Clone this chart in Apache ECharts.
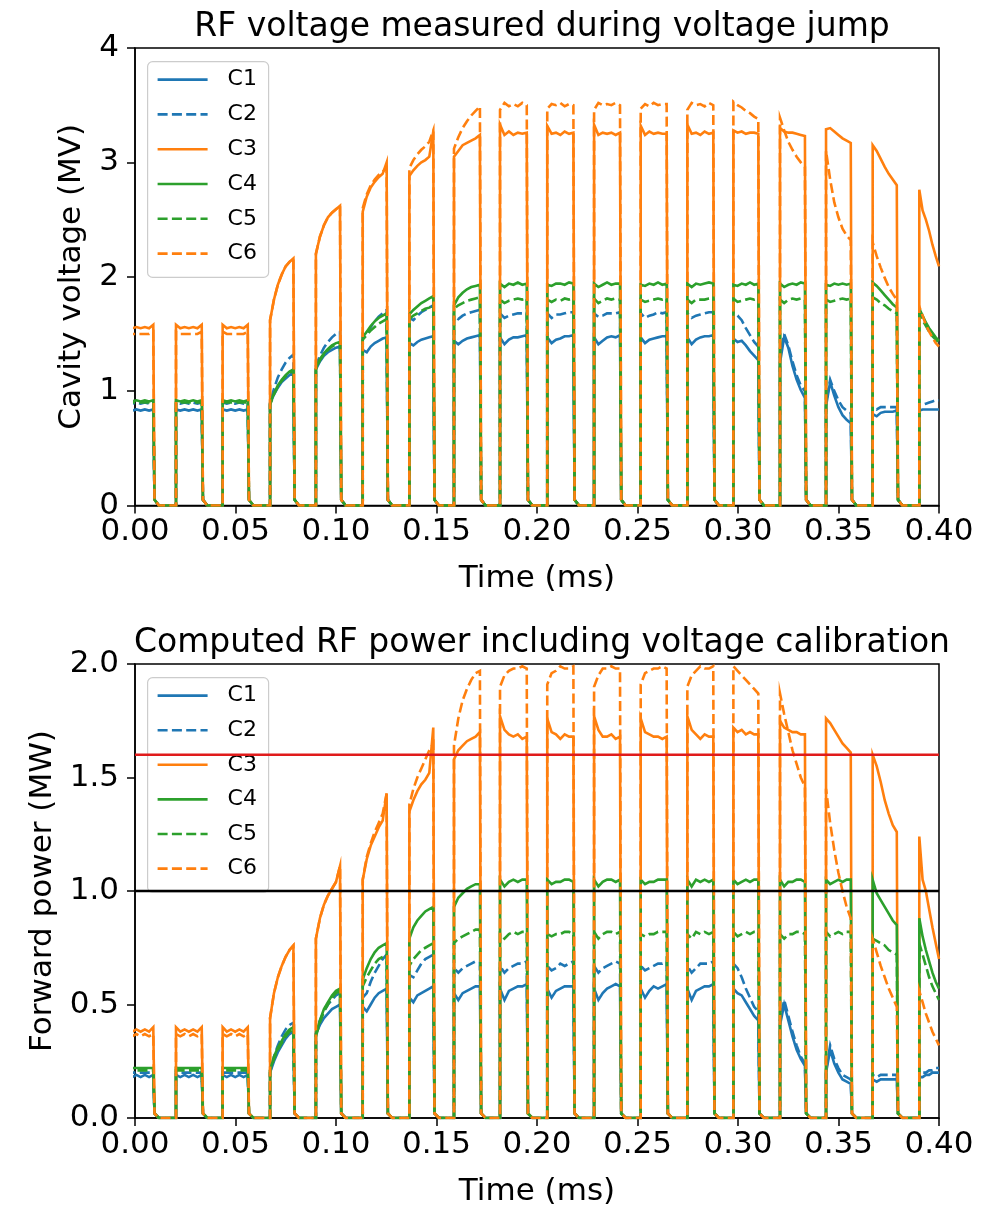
<!DOCTYPE html>
<html><head><meta charset="utf-8">
<script src="https://cdn.jsdelivr.net/npm/echarts@6/dist/echarts.min.js"></script>
<style>html,body{margin:0;padding:0;background:#fff}#c{width:997px;height:1208px}</style>
</head><body><div id="c"></div>
<script>
// ---------- data ----------
const seriesNames = ['C1','C2','C3','C4','C5','C6'];
const xTicks = [0.00,0.05,0.10,0.15,0.20,0.25,0.30,0.35,0.40];
const topYTicks = [0,1,2,3,4];
const botYTicks = [0.0,0.5,1.0,1.5,2.0];
const powerLimits = [1.6, 1.0];

// pulse rising / falling edge times (ms)
const pulseStart = [-0.0035,0.0204,0.0436,0.0672,0.0900,0.1133,0.1365,0.1587,0.1816,0.2051,0.2284,0.2516,0.2748,0.2977,0.3209,0.3438,0.3670,0.3902];
const pulseEnd   = [0.0091,0.0332,0.0561,0.0788,0.1020,0.1252,0.1484,0.1716,0.1949,0.2181,0.2413,0.2645,0.2877,0.3101,0.3333,0.3561,0.3790,0.4000];

// Cavity voltage (MV) — levels across each pulse (start ... end)
const volC1 = [
[0.84,0.83,0.84,0.83,0.84,0.83,0.84],[0.84,0.83,0.84,0.83,0.84,0.83,0.84],[0.84,0.83,0.84,0.83,0.84,0.83,0.84],
[0.89,0.97,1.03,1.08,1.11,1.14,1.16],[1.19,1.26,1.31,1.34,1.36,1.38,1.39],[1.36,1.34,1.39,1.42,1.44,1.46,1.47],
[1.42,1.40,1.43,1.45,1.46,1.47,1.48],[1.44,1.41,1.44,1.46,1.47,1.48,1.49],[1.47,1.41,1.45,1.47,1.47,1.48,1.49],
[1.47,1.42,1.45,1.46,1.48,1.48,1.49],[1.47,1.41,1.44,1.47,1.48,1.47,1.49],[1.47,1.42,1.45,1.46,1.47,1.48,1.48],
[1.47,1.41,1.45,1.47,1.48,1.48,1.49],[1.46,1.43,1.44,1.40,1.35,1.31,1.27],[1.25,1.47,1.38,1.22,1.10,1.01,0.94],
[0.87,1.08,0.96,0.86,0.79,0.75,0.72],[0.80,0.78,0.81,0.82,0.82,0.82,0.83],[0.83,0.84,0.84,0.84,0.84,0.84,0.84]];
const volC2 = [
[0.90,0.89,0.90,0.89,0.90,0.89,0.90],[0.90,0.89,0.90,0.89,0.90,0.89,0.90],[0.90,0.89,0.90,0.89,0.90,0.89,0.90],
[0.90,1.02,1.12,1.19,1.25,1.29,1.32],[1.22,1.31,1.38,1.43,1.47,1.50,1.52],[1.50,1.49,1.56,1.61,1.65,1.68,1.71],
[1.64,1.62,1.66,1.69,1.71,1.73,1.75],[1.66,1.63,1.66,1.68,1.69,1.70,1.71],[1.68,1.64,1.66,1.67,1.68,1.68,1.69],
[1.68,1.64,1.67,1.67,1.68,1.69,1.69],[1.68,1.65,1.66,1.68,1.68,1.68,1.69],[1.68,1.64,1.66,1.67,1.69,1.68,1.69],
[1.68,1.64,1.66,1.67,1.68,1.69,1.69],[1.68,1.66,1.62,1.55,1.49,1.43,1.39],[1.30,1.50,1.40,1.26,1.14,1.05,1.00],
[0.90,1.10,1.00,0.92,0.86,0.83,0.81],[0.86,0.84,0.86,0.86,0.86,0.86,0.86],[0.87,0.88,0.89,0.90,0.91,0.92,0.92]];
const volC3 = [
[1.58,1.55,1.56,1.55,1.56,1.55,1.58],[1.58,1.55,1.56,1.55,1.56,1.55,1.58],[1.58,1.55,1.56,1.55,1.56,1.55,1.58],
[1.62,1.80,1.93,2.02,2.09,2.13,2.16],[2.20,2.35,2.45,2.52,2.56,2.59,2.62],[2.57,2.70,2.78,2.83,2.87,2.90,3.00],
[2.88,2.93,2.97,3.00,3.02,3.05,3.27],[3.05,3.10,3.15,3.17,3.19,3.21,3.24],[3.33,3.24,3.27,3.24,3.26,3.25,3.26],
[3.32,3.25,3.26,3.24,3.27,3.25,3.26],[3.33,3.24,3.26,3.25,3.26,3.24,3.26],[3.32,3.24,3.27,3.25,3.26,3.25,3.25],
[3.33,3.25,3.26,3.24,3.27,3.25,3.26],[3.28,3.26,3.27,3.25,3.26,3.26,3.25],[3.30,3.27,3.26,3.26,3.25,3.24,3.23],
[3.29,3.30,3.27,3.24,3.21,3.19,3.17],[3.15,3.10,3.03,2.96,2.90,2.85,2.80],[2.76,2.58,2.50,2.40,2.28,2.18,2.09]];
const volC4 = [
[0.92,0.91,0.92,0.91,0.92,0.91,0.92],[0.92,0.91,0.92,0.91,0.92,0.91,0.92],[0.92,0.91,0.92,0.91,0.92,0.91,0.92],
[0.89,0.98,1.05,1.10,1.14,1.17,1.19],[1.20,1.28,1.33,1.37,1.40,1.42,1.43],[1.47,1.52,1.57,1.61,1.64,1.66,1.68],
[1.67,1.71,1.74,1.77,1.79,1.81,1.83],[1.75,1.82,1.86,1.89,1.91,1.92,1.93],[1.94,1.91,1.94,1.93,1.95,1.93,1.94],
[1.93,1.92,1.94,1.94,1.93,1.95,1.94],[1.94,1.91,1.93,1.95,1.93,1.94,1.94],[1.93,1.92,1.94,1.93,1.95,1.93,1.94],
[1.94,1.91,1.94,1.93,1.94,1.95,1.94],[1.93,1.92,1.94,1.93,1.95,1.93,1.94],[1.94,1.91,1.93,1.94,1.93,1.95,1.94],
[1.93,1.92,1.94,1.93,1.94,1.93,1.94],[1.95,1.92,1.88,1.84,1.80,1.76,1.73],[1.72,1.66,1.60,1.55,1.51,1.47,1.44]];
const volC5 = [
[0.90,0.90,0.90,0.90,0.90,0.90,0.90],[0.90,0.90,0.90,0.90,0.90,0.90,0.90],[0.90,0.90,0.90,0.90,0.90,0.90,0.90],
[0.88,0.97,1.04,1.09,1.13,1.16,1.18],[1.19,1.27,1.32,1.36,1.39,1.41,1.42],[1.45,1.49,1.53,1.56,1.59,1.61,1.63],
[1.63,1.66,1.68,1.70,1.72,1.73,1.75],[1.72,1.75,1.77,1.79,1.80,1.81,1.82],[1.80,1.77,1.79,1.80,1.81,1.80,1.81],
[1.80,1.78,1.80,1.79,1.81,1.80,1.81],[1.81,1.77,1.79,1.81,1.80,1.81,1.80],[1.80,1.78,1.79,1.80,1.81,1.80,1.81],
[1.80,1.77,1.80,1.80,1.80,1.81,1.81],[1.81,1.78,1.79,1.80,1.81,1.80,1.81],[1.80,1.77,1.80,1.81,1.80,1.81,1.80],
[1.80,1.78,1.79,1.80,1.81,1.80,1.81],[1.82,1.80,1.77,1.75,1.72,1.70,1.68],[1.68,1.62,1.57,1.52,1.48,1.45,1.42]];
const volC6 = [
[1.52,1.50,1.50,1.50,1.50,1.50,1.52],[1.52,1.50,1.50,1.50,1.50,1.50,1.52],[1.52,1.50,1.50,1.50,1.50,1.50,1.52],
[1.62,1.80,1.93,2.02,2.09,2.13,2.16],[2.20,2.35,2.45,2.52,2.56,2.59,2.62],[2.60,2.72,2.80,2.85,2.89,2.92,2.95],
[2.95,3.02,3.07,3.11,3.14,3.18,3.28],[3.12,3.22,3.30,3.36,3.41,3.45,3.49],[3.46,3.52,3.49,3.51,3.49,3.52,3.50],
[3.47,3.51,3.50,3.52,3.49,3.51,3.50],[3.46,3.52,3.50,3.51,3.50,3.52,3.50],[3.47,3.51,3.49,3.52,3.50,3.51,3.51],
[3.46,3.52,3.50,3.51,3.49,3.52,3.50],[3.53,3.50,3.48,3.45,3.43,3.40,3.38],[3.39,3.28,3.18,3.11,3.05,3.00,2.96],
[3.10,2.85,2.65,2.52,2.42,2.36,2.32],[2.30,2.18,2.08,1.99,1.91,1.85,1.80],[1.74,1.66,1.58,1.52,1.47,1.42,1.39]];

// Forward power (MW)
const powC1 = [
[0.19,0.18,0.19,0.18,0.19,0.18,0.19],[0.19,0.18,0.19,0.18,0.19,0.18,0.19],[0.19,0.18,0.19,0.18,0.19,0.18,0.19],
[0.20,0.25,0.29,0.32,0.35,0.37,0.38],[0.37,0.41,0.44,0.46,0.48,0.49,0.50],[0.49,0.47,0.50,0.53,0.55,0.56,0.57],
[0.53,0.51,0.54,0.55,0.56,0.57,0.58],[0.55,0.52,0.55,0.56,0.57,0.58,0.58],[0.57,0.52,0.56,0.57,0.58,0.58,0.59],
[0.57,0.53,0.56,0.57,0.58,0.58,0.58],[0.57,0.52,0.55,0.57,0.58,0.59,0.58],[0.57,0.53,0.56,0.58,0.57,0.58,0.59],
[0.57,0.52,0.56,0.57,0.58,0.58,0.59],[0.57,0.55,0.54,0.51,0.48,0.45,0.43],[0.41,0.50,0.43,0.36,0.30,0.26,0.23],
[0.20,0.30,0.24,0.20,0.17,0.16,0.15],[0.17,0.16,0.17,0.17,0.17,0.17,0.17],[0.18,0.18,0.19,0.19,0.20,0.20,0.20]];
const powC2 = [
[0.20,0.20,0.20,0.20,0.20,0.20,0.20],[0.20,0.20,0.20,0.20,0.20,0.20,0.20],[0.20,0.20,0.20,0.20,0.20,0.20,0.20],
[0.20,0.27,0.32,0.36,0.39,0.41,0.42],[0.38,0.43,0.47,0.50,0.52,0.54,0.55],[0.53,0.55,0.60,0.64,0.67,0.70,0.72],
[0.63,0.62,0.65,0.68,0.70,0.71,0.72],[0.66,0.64,0.66,0.67,0.68,0.69,0.69],[0.67,0.64,0.66,0.67,0.68,0.68,0.69],
[0.67,0.65,0.66,0.68,0.67,0.68,0.69],[0.67,0.64,0.66,0.67,0.68,0.69,0.68],[0.67,0.65,0.66,0.67,0.68,0.68,0.69],
[0.67,0.64,0.66,0.68,0.68,0.68,0.69],[0.68,0.66,0.62,0.57,0.53,0.49,0.47],[0.43,0.52,0.45,0.38,0.32,0.27,0.24],
[0.21,0.32,0.26,0.22,0.19,0.18,0.17],[0.19,0.18,0.19,0.19,0.19,0.19,0.19],[0.19,0.20,0.20,0.21,0.21,0.22,0.22]];
const powC3 = [
[0.40,0.38,0.39,0.38,0.39,0.38,0.40],[0.40,0.38,0.39,0.38,0.39,0.38,0.40],[0.40,0.38,0.39,0.38,0.39,0.38,0.40],
[0.44,0.55,0.62,0.67,0.71,0.74,0.76],[0.79,0.88,0.94,0.98,1.01,1.04,1.11],[1.05,1.14,1.20,1.24,1.28,1.31,1.43],
[1.35,1.40,1.44,1.47,1.49,1.52,1.72],[1.58,1.62,1.64,1.66,1.67,1.68,1.70],[1.77,1.71,1.69,1.68,1.69,1.67,1.68],
[1.76,1.70,1.69,1.67,1.69,1.68,1.68],[1.77,1.71,1.68,1.68,1.69,1.67,1.68],[1.76,1.70,1.69,1.68,1.68,1.67,1.68],
[1.77,1.71,1.69,1.67,1.69,1.68,1.68],[1.72,1.70,1.71,1.69,1.70,1.69,1.69],[1.75,1.72,1.71,1.70,1.70,1.69,1.69],
[1.76,1.74,1.71,1.68,1.65,1.63,1.61],[1.60,1.55,1.48,1.40,1.34,1.29,1.26],[1.24,1.05,1.00,0.92,0.84,0.77,0.70]];
const powC4 = [
[0.22,0.22,0.22,0.22,0.22,0.22,0.22],[0.22,0.22,0.22,0.22,0.22,0.22,0.22],[0.22,0.22,0.22,0.22,0.22,0.22,0.22],
[0.21,0.27,0.31,0.34,0.37,0.39,0.40],[0.37,0.43,0.48,0.51,0.54,0.56,0.57],[0.61,0.66,0.70,0.73,0.75,0.76,0.77],
[0.79,0.84,0.87,0.89,0.91,0.92,0.93],[0.93,0.97,0.99,1.01,1.02,1.03,1.03],[1.05,1.02,1.04,1.05,1.04,1.05,1.05],
[1.05,1.03,1.04,1.04,1.05,1.05,1.04],[1.05,1.02,1.04,1.05,1.05,1.04,1.05],[1.05,1.03,1.04,1.04,1.05,1.05,1.05],
[1.05,1.02,1.05,1.04,1.05,1.04,1.05],[1.05,1.03,1.04,1.05,1.04,1.05,1.05],[1.05,1.02,1.04,1.04,1.05,1.05,1.04],
[1.05,1.03,1.04,1.05,1.04,1.05,1.05],[1.05,0.99,0.96,0.93,0.90,0.87,0.85],[0.88,0.80,0.74,0.69,0.64,0.60,0.57]];
const powC5 = [
[0.21,0.21,0.21,0.21,0.21,0.21,0.21],[0.21,0.21,0.21,0.21,0.21,0.21,0.21],[0.21,0.21,0.21,0.21,0.21,0.21,0.21],
[0.21,0.26,0.30,0.33,0.36,0.38,0.39],[0.36,0.42,0.47,0.50,0.53,0.55,0.56],[0.58,0.62,0.65,0.68,0.70,0.71,0.72],
[0.67,0.70,0.72,0.74,0.75,0.76,0.77],[0.77,0.79,0.80,0.81,0.82,0.83,0.83],[0.81,0.79,0.81,0.82,0.81,0.82,0.82],
[0.81,0.80,0.81,0.81,0.82,0.82,0.81],[0.82,0.79,0.81,0.82,0.82,0.81,0.82],[0.81,0.80,0.81,0.81,0.82,0.82,0.82],
[0.81,0.79,0.82,0.81,0.82,0.81,0.82],[0.82,0.80,0.81,0.82,0.81,0.82,0.82],[0.81,0.79,0.81,0.81,0.82,0.82,0.81],
[0.82,0.80,0.81,0.82,0.81,0.82,0.82],[0.79,0.78,0.77,0.76,0.74,0.73,0.72],[0.77,0.72,0.67,0.62,0.58,0.55,0.52]];
const powC6 = [
[0.37,0.36,0.37,0.36,0.37,0.36,0.37],[0.37,0.36,0.37,0.36,0.37,0.36,0.37],[0.37,0.36,0.37,0.36,0.37,0.36,0.37],
[0.44,0.55,0.62,0.67,0.71,0.74,0.76],[0.79,0.88,0.94,0.98,1.01,1.04,1.11],[1.05,1.15,1.21,1.26,1.30,1.34,1.43],
[1.38,1.45,1.50,1.54,1.58,1.62,1.65],[1.64,1.76,1.84,1.89,1.93,1.96,1.97],[1.90,1.95,1.97,1.98,1.98,1.99,1.98],
[1.91,1.96,1.97,1.99,1.98,1.98,1.99],[1.90,1.95,1.98,1.98,1.99,1.98,1.98],[1.91,1.96,1.97,1.98,1.98,1.99,1.98],
[1.90,1.95,1.97,1.99,1.98,1.98,1.99],[1.99,1.97,1.95,1.93,1.91,1.89,1.87],[1.87,1.78,1.70,1.62,1.56,1.50,1.46],
[1.45,1.30,1.18,1.08,1.00,0.93,0.88],[0.79,0.73,0.67,0.62,0.57,0.53,0.49],[0.56,0.51,0.46,0.42,0.38,0.35,0.32]];

// ---------- build ----------
const colors = ['#1f77b4','#1f77b4','#ff7f0e','#2ca02c','#2ca02c','#ff7f0e'];
const dashed = [false,true,false,false,true,true];
const DASH = [10,4.3];
const LW = 2.6;

function wave(levels, tail){
  const pts = [];
  for (let i = 0; i < pulseStart.length; i++){
    const s = pulseStart[i], e = pulseEnd[i], lv = levels[i], n = lv.length;
    pts.push([s, 0]);
    for (let k = 0; k < n; k++) pts.push([s + (e - s) * k / (n - 1), lv[k]]);
    if (i < pulseStart.length - 1) { pts.push([e + 0.0006, tail]); pts.push([e + 0.0028, 0]); }
  }
  return pts;
}

const volData = [volC1,volC2,volC3,volC4,volC5,volC6];
const powData = [powC1,powC2,powC3,powC4,powC5,powC6];

const FONT = 'DejaVu Sans';
const series = [];
volData.forEach((d,i)=>{
  series.push({name: seriesNames[i], type:'line', xAxisIndex:0, yAxisIndex:0, data: wave(d,0.05),
    showSymbol:false, symbol:'none', animation:false, z: 2+i,
    lineStyle:{color:colors[i], width:LW, type: dashed[i]?DASH:'solid', cap:'butt', join:'miter'}});
});
powData.forEach((d,i)=>{
  const s = {name: seriesNames[i], type:'line', xAxisIndex:1, yAxisIndex:1, data: wave(d,0.02),
    showSymbol:false, symbol:'none', animation:false, z: 2+i,
    lineStyle:{color:colors[i], width:LW, type: dashed[i]?DASH:'solid', cap:'butt', join:'miter'}};
  series.push(s);
});
// horizontal reference lines
series.push({type:'line', xAxisIndex:1, yAxisIndex:1, symbol:'none', animation:false, z:10,
  data:[[xTicks[0], powerLimits[0]],[xTicks[xTicks.length-1], powerLimits[0]]], lineStyle:{color:'#e01b1b', width:2.6}});
series.push({type:'line', xAxisIndex:1, yAxisIndex:1, symbol:'none', animation:false, z:10,
  data:[[xTicks[0], powerLimits[1]],[xTicks[xTicks.length-1], powerLimits[1]]], lineStyle:{color:'#000', width:2.6}});

const G = [{left:135, top:48, width:804, height:457.5}, {left:135, top:664, width:804, height:456}];

function xAxisCfg(gi){
  return {type:'value', gridIndex:gi, min:xTicks[0], max:xTicks[xTicks.length-1], interval:0.05,
    name:'Time (ms)', nameLocation:'middle', nameGap:58,
    nameTextStyle:{fontFamily:FONT, fontSize:31, color:'#000'},
    axisLine:{show:true, lineStyle:{color:'#000', width:1.5}},
    axisTick:{show:true, inside:false, length:8, lineStyle:{color:'#000', width:1.5}},
    axisLabel:{fontFamily:FONT, fontSize:31, color:'#000', margin:11, formatter:v=>v.toFixed(2)},
    splitLine:{show:false}};
}
function yAxisCfg(gi, ticks, name, gap, dec){
  return {type:'value', gridIndex:gi, min:ticks[0], max:ticks[ticks.length-1], interval:ticks[1]-ticks[0],
    name:name, nameLocation:'middle', nameGap:gap,
    nameTextStyle:{fontFamily:FONT, fontSize:31, color:'#000'},
    axisLine:{show:true, lineStyle:{color:'#000', width:1.5}},
    axisTick:{show:true, inside:false, length:8, lineStyle:{color:'#000', width:1.5}},
    axisLabel:{fontFamily:FONT, fontSize:31, color:'#000', margin:16, formatter:v=>v.toFixed(dec)},
    splitLine:{show:false}};
}

function legendGraphic(gi, x, y, rowH){
  const children = [{type:'rect', shape:{x:0, y:0, width:121, height:rowH*6+7, r:5},
    style:{fill:'rgba(255,255,255,0.8)', stroke:'#cccccc', lineWidth:1.2}}];
  seriesNames.forEach((n,i)=>{
    const cy = 18 + i*rowH;
    children.push({type:'line', shape:{x1:10, y1:cy, x2:60, y2:cy},
      style:{stroke:colors[i], lineWidth:LW, lineDash: dashed[i]?DASH:null}});
    children.push({type:'text', x:80, y:cy, style:{text:n, fontFamily:FONT, fontSize:22, fill:'#000',
      textVerticalAlign:'middle', verticalAlign:'middle'}});
  });
  return {type:'group', left:x, top:y, z:100, children};
}

const option = {
  animation:false,
  backgroundColor:'#fff',
  title:[
    {text:'RF voltage measured during voltage jump', left:537, top:6, textAlign:'center',
      textStyle:{fontFamily:FONT, fontSize:33, fontWeight:'normal', color:'#000'}},
    {text:'Computed RF power including voltage calibration', left:537, top:622, textAlign:'center',
      textStyle:{fontFamily:FONT, fontSize:33, fontWeight:'normal', color:'#000'}}
  ],
  grid: G.map(g=>Object.assign({show:true, borderColor:'#000', borderWidth:1.5, backgroundColor:'transparent'}, g)),
  xAxis:[xAxisCfg(0), xAxisCfg(1)],
  yAxis:[yAxisCfg(0, topYTicks, 'Cavity voltage (MV)', 48, 0), yAxisCfg(1, botYTicks, 'Forward power (MW)', 75, 1)],
  series,
  graphic:[legendGraphic(0,147,61,34.8), legendGraphic(1,147,677,34.6)]
};
const chart = echarts.init(document.getElementById('c'), null, {renderer:'canvas'});
chart.setOption(option);
</script></body></html>
